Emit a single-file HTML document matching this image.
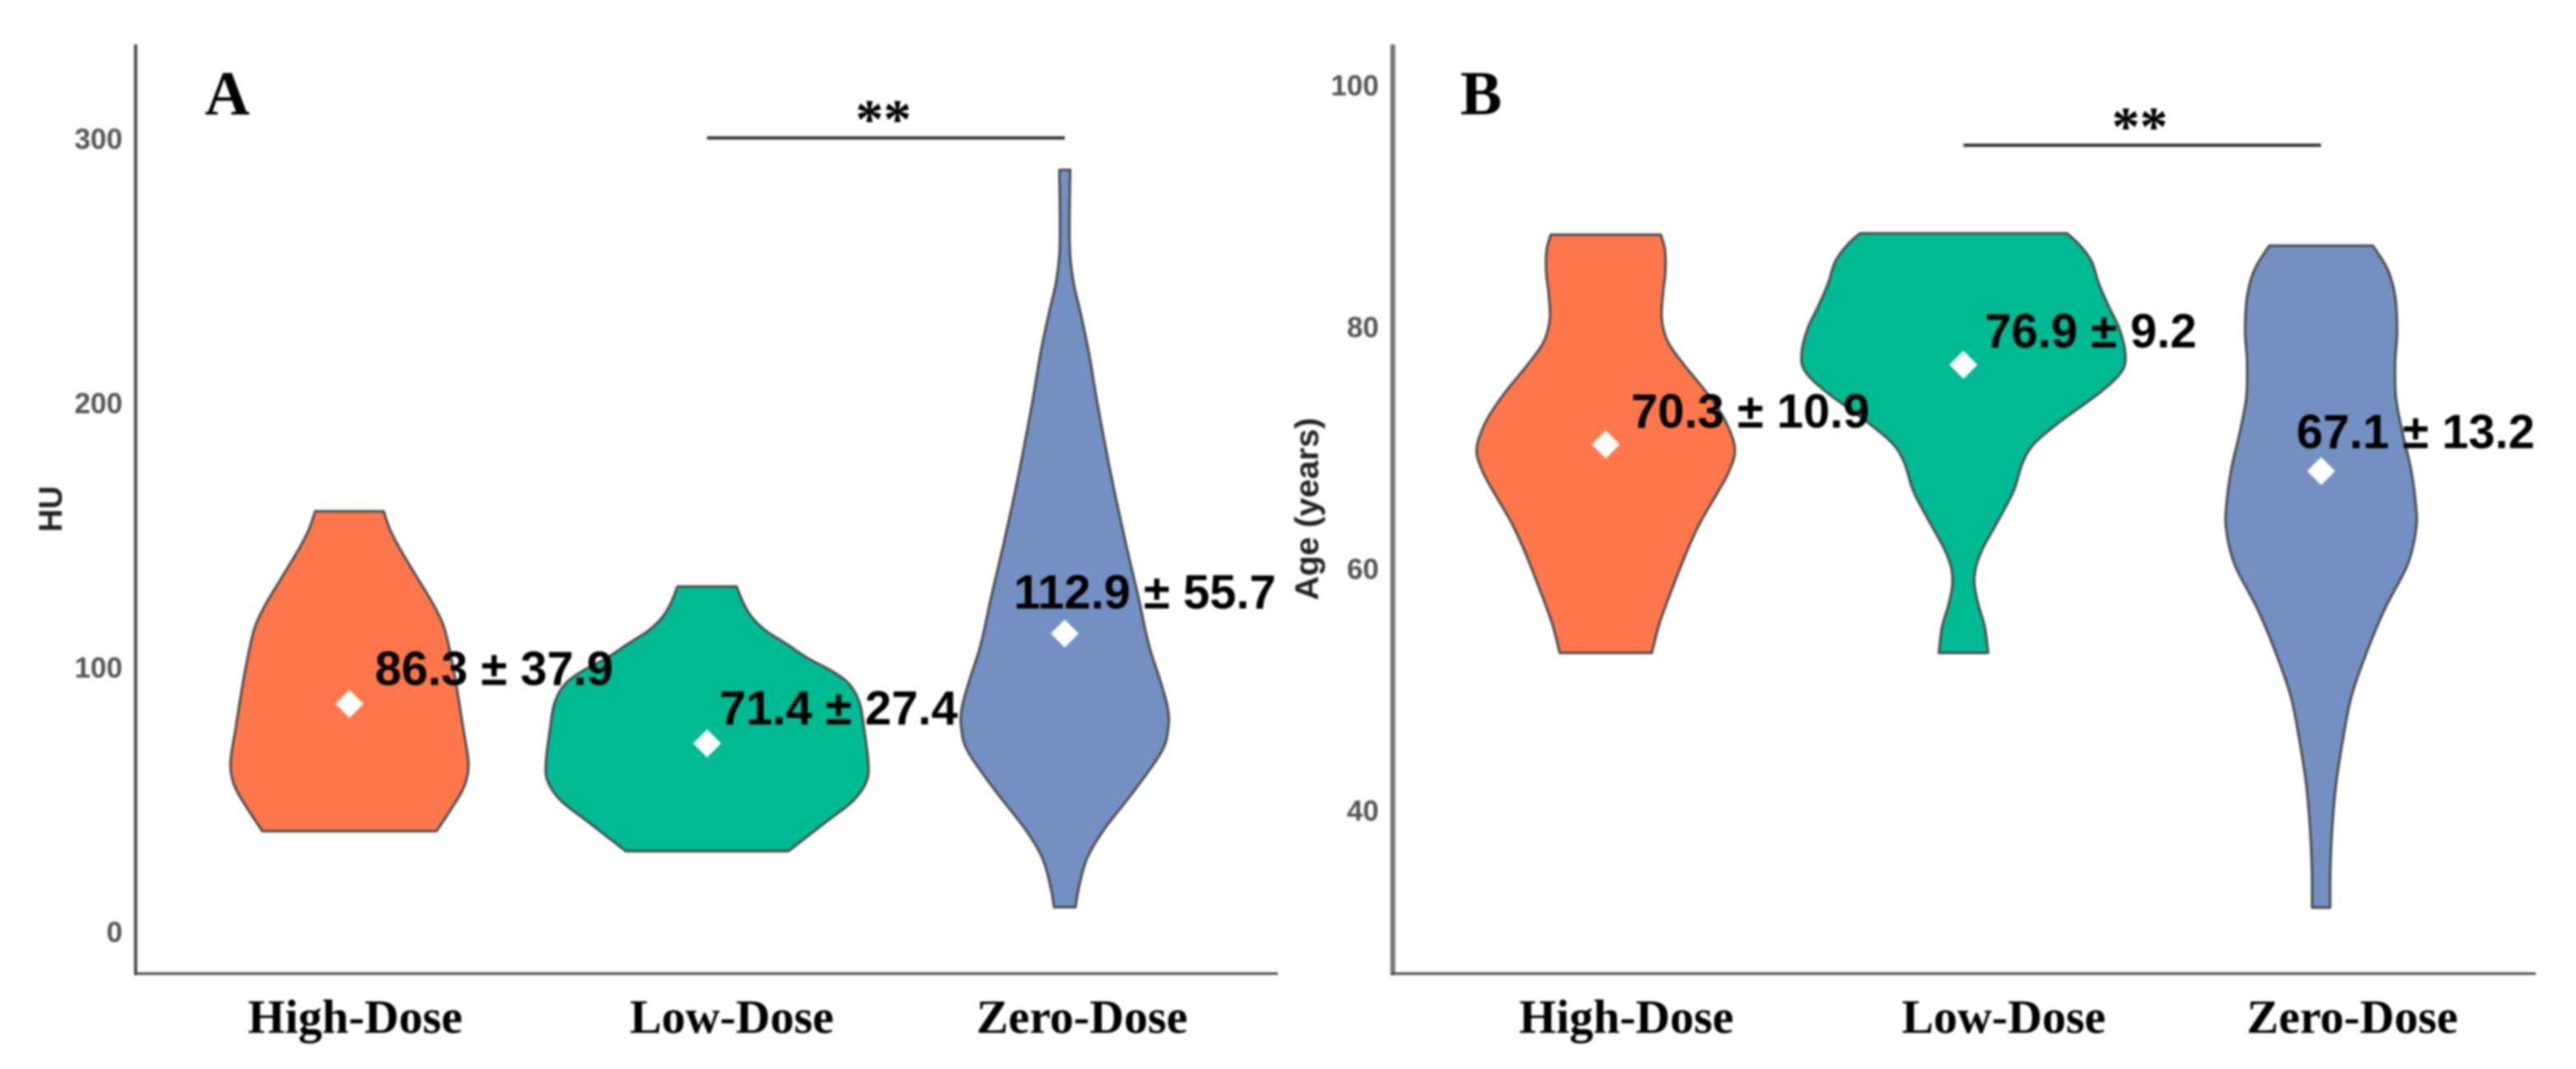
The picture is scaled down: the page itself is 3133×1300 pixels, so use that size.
<!DOCTYPE html>
<html lang="en">
<head>
<meta charset="utf-8">
<title>Violin plots of HU and age by dose group</title>
<style>
  html, body { margin: 0; padding: 0; background: #fff; }
  #figure { display: block; width: 3133px; height: 1300px; filter: blur(1.2px); }
  .tick { font: bold 35px "Liberation Sans", sans-serif; fill: #555; }
  .axis-title { font: bold 40px "Liberation Sans", sans-serif; fill: #222; }
  .cat { font: bold 58px "Liberation Serif", serif; fill: #000; }
  .panel { font: bold 76px "Liberation Serif", serif; fill: #000; }
  .stat { font: bold 58px "Liberation Sans", sans-serif; fill: #000; }
  .stars { font: bold 68px "Liberation Serif", serif; fill: #000; }
</style>
</head>
<body>
<svg id="figure" xmlns="http://www.w3.org/2000/svg" width="3133" height="1300" viewBox="0 0 3133 1300"></svg>
<script>
/* ---------- data ---------- */
const categories = ['High-Dose', 'Low-Dose', 'Zero-Dose'];
const colors = ['#FE774C', '#00BA93', '#7490C2'];

/* Panel A: HU */
const huTicks = [0, 100, 200, 300];
const huMeans = [86.3, 71.4, 112.9];
const huLabels = ['86.3 ± 37.9', '71.4 ± 27.4', '112.9 ± 55.7'];
const huBracketValue = [300.4];
const huHighValues = [159.2, 152.5, 145.2, 134.8, 124.5, 116.2, 107.9, 93.4, 77.8, 66.4, 60.2, 54, 46.7, 38.2];
const huHighDensity = [20.8, 24.5, 30.5, 40.5, 50.5, 57, 60.5, 65, 69, 72, 72, 69, 62, 53];
const huLowValues = [130.7, 124.5, 119.3, 114.1, 108.9, 103.7, 98.5, 93.4, 86.1, 76.8, 64.3, 57.1, 49.8, 41.5, 30.6];
const huLowDensity = [18, 22, 27, 35.5, 48.5, 61, 76.5, 87, 93, 95.5, 98, 97, 89, 72, 49.5];
const huZeroValues = [288.3, 269.5, 256.6, 245.5, 234.4, 219.7, 201.2, 182.8, 164.3, 145.9, 127.4, 109, 94.2, 85, 77.6, 68.4, 53.7, 38.9, 27.8, 16.7, 9.4];
const huZeroDensity = [3.3, 2.9, 3.2, 5.4, 9.5, 14.5, 19.5, 25, 31, 37.5, 44.5, 51, 58.5, 62.5, 63, 59, 42.5, 24, 13.5, 8.5, 6.5];

/* Panel B: Age */
const ageTicks = [40, 60, 80, 100];
const ageMeans = [70.3, 76.9, 68.1];
const ageLabels = ['70.3 ± 10.9', '76.9 ± 9.2', '67.1 ± 13.2'];
const ageBracketValue = [95.06];
const ageHighValues = [87.66, 86.36, 84.49, 82.85, 80.74, 78.87, 76.99, 74.65, 72.31, 69.97, 68.1, 66.22, 63.88, 61.53, 58.26, 55.44, 53.06];
const ageHighDensity = [33.5, 36, 36.2, 34.8, 34, 37.5, 47, 61, 72.5, 78.5, 75, 67.5, 57.5, 49.5, 40, 32.5, 28];
const ageLowValues = [87.77, 86.83, 85.43, 83.55, 81.68, 79.81, 77.7, 76.3, 74.65, 72.31, 70.44, 68.8, 66.46, 64.11, 61.77, 60.13, 58.72, 57.08, 55.2, 53.06];
const ageLowDensity = [63, 70.5, 78, 82.5, 88.5, 95, 98.5, 96, 83.5, 60, 43.5, 36, 30.5, 21.5, 12, 7.5, 6.7, 9, 13, 15];
const ageZeroValues = [86.75, 84.77, 82.56, 79.65, 77.1, 74.18, 71.27, 68.35, 65.43, 63.25, 60.34, 56.7, 53.05, 49.4, 45.76, 42.12, 38.48, 35.2, 31.99];
const ageZeroDensity = [31.5, 40.5, 45, 46.2, 45, 45.5, 49.5, 54.5, 57.5, 57.7, 52.5, 38.7, 27.5, 18.3, 13.1, 9, 6.7, 5.6, 5.5];

/* ---------- axis functions ---------- */
const densityScale = d => d * 2;
const bandStep = 435;
const yHu = v => 1133.5 - 3.215 * v;
const yAge = v => 986 - 14.7 * (v - 40);
const xHu = i => 425 + bandStep * i;
const xAge = i => 1953 + bandStep * i;

const SVG_NS = 'http://www.w3.org/2000/svg';
const svg = document.getElementById('figure');

function make(tag, attrs, text) {
  const el = document.createElementNS(SVG_NS, tag);
  Object.keys(attrs).forEach(k => el.setAttribute(k, attrs[k]));
  if (text !== undefined) el.textContent = text;
  svg.appendChild(el);
  return el;
}

/* Catmull-Rom through a list of [x, y] points */
function spline(pts) {
  let d = '';
  for (let i = 0; i < pts.length - 1; i++) {
    const p0 = pts[Math.max(i - 1, 0)];
    const p1 = pts[i];
    const p2 = pts[i + 1];
    const p3 = pts[Math.min(i + 2, pts.length - 1)];
    const c1x = p1[0] + (p2[0] - p0[0]) / 6;
    const c1y = p1[1] + (p2[1] - p0[1]) / 6;
    const c2x = p2[0] - (p3[0] - p1[0]) / 6;
    const c2y = p2[1] - (p3[1] - p1[1]) / 6;
    d += ' C' + c1x.toFixed(1) + ' ' + c1y.toFixed(1) + ' ' + c2x.toFixed(1) + ' ' + c2y.toFixed(1) + ' ' + p2[0].toFixed(1) + ' ' + p2[1].toFixed(1);
  }
  return d;
}

function violinPath(cx, yScale, values, density) {
  const right = values.map((v, i) => [cx + densityScale(density[i]), yScale(v)]);
  const left = values.map((v, i) => [cx - densityScale(density[i]), yScale(v)]).reverse();
  return 'M' + right[0][0].toFixed(1) + ' ' + right[0][1].toFixed(1) + spline(right) +
    ' L' + left[0][0].toFixed(1) + ' ' + left[0][1].toFixed(1) + spline(left) + ' Z';
}

function drawPanel(p) {
  /* violins */
  p.violins.forEach((v, i) => {
    const path = make('path', {
      d: violinPath(p.x(i), p.y, v[0], v[1]),
      fill: colors[i],
      stroke: '#4a4a4a',
      'stroke-width': 3,
      'stroke-linejoin': 'round'
    });
    
    
  });

  /* axes */
  const yLine = make('line', { x1: p.axisX, y1: 54, x2: p.axisX, y2: 1186, stroke: p.yAxisColor, 'stroke-width': p.yAxisWidth });
  
  
  const xLine = make('line', { x1: p.axisX - 2, y1: 1184, x2: p.axisEnd, y2: 1184, stroke: '#4a4a4a', 'stroke-width': 3 });
  
  

  /* y ticks */
  p.ticks.forEach(t => {
    const label = make('text', { x: p.tickRight, y: p.y(t) + 12, class: 'tick', 'text-anchor': 'end' }, String(t));
    
    
  });

  /* y title */
  const title = make('text', {
    class: 'axis-title',
    'text-anchor': 'middle',
    transform: 'translate(' + p.titleX + ' 619) rotate(-90)',
    textLength: p.titleLength,
    lengthAdjust: 'spacingAndGlyphs'
  }, p.title);
  
  

  /* category labels */
  categories.forEach((c, i) => {
    const label = make('text', { x: p.catX[i], y: 1256, class: 'cat', 'text-anchor': 'middle' }, c);
    
    
  });

  /* mean diamonds and stat labels */
  p.means.forEach((m, i) => {
    const cx = p.x(i);
    const cy = p.y(m);
    const diamond = make('polygon', {
      points: [[cx, cy - 17], [cx + 17, cy], [cx, cy + 17], [cx - 17, cy]].map(q => q.join(',')).join(' '),
      fill: '#fff'
    });
    
    
    const stat = make('text', { x: cx + p.statDx[i], y: cy + p.statDy[i], class: 'stat' }, p.labels[i]);
    
    
  });

  /* significance bracket */
  const by = p.y(p.bracket[0]);
  const bracket = make('line', { x1: p.x(1), y1: by, x2: p.x(2), y2: by, stroke: '#333', 'stroke-width': 4 });
  
  
  const stars = make('text', { x: (p.x(1) + p.x(2)) / 2 - 3, y: by, class: 'stars', 'text-anchor': 'middle' }, '**');
  
  

  /* panel letter */
  const letter = make('text', { x: p.letterX, y: 139, class: 'panel' }, p.letter);
  
  
}

drawPanel({
  id: 'panel-a', letter: 'A', letterX: 249, title: 'HU', titleX: 75, titleLength: 56,
  axisX: 165, axisEnd: 1554, tickRight: 149, yAxisColor: '#4a4a4a', yAxisWidth: 4,
  x: xHu, y: yHu, ticks: huTicks, means: huMeans, labels: huLabels, bracket: huBracketValue,
  catX: [432, 890, 1316], statDx: [31, 15, -62], statDy: [-23, -23, -30.5],
  violins: [[huHighValues, huHighDensity], [huLowValues, huLowDensity], [huZeroValues, huZeroDensity]]
});

drawPanel({
  id: 'panel-b', letter: 'B', letterX: 1776, title: 'Age (years)', titleX: 1603, titleLength: 222,
  axisX: 1694, axisEnd: 3084, tickRight: 1677, yAxisColor: '#777', yAxisWidth: 6,
  x: xAge, y: yAge, ticks: ageTicks, means: ageMeans, labels: ageLabels, bracket: ageBracketValue,
  catX: [1978, 2437, 2861], statDx: [31, 26, -30], statDy: [-20.6, -21, -28],
  violins: [[ageHighValues, ageHighDensity], [ageLowValues, ageLowDensity], [ageZeroValues, ageZeroDensity]]
});
</script>
</body>
</html>
